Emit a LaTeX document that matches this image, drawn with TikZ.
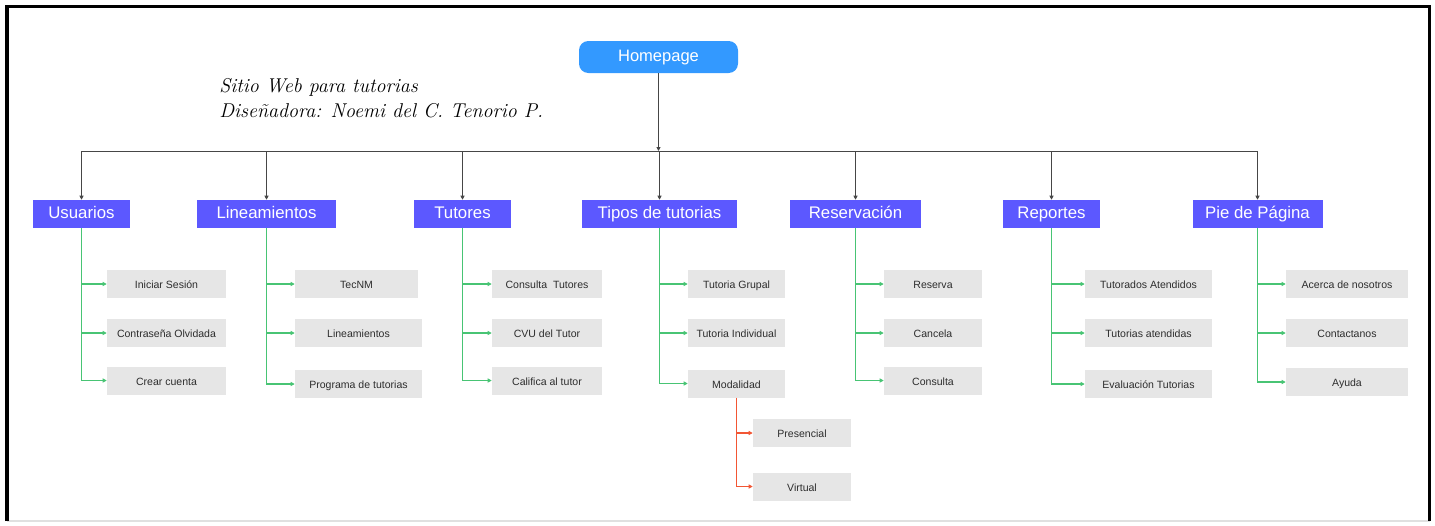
\documentclass[tikz,border=0pt]{standalone}
\usepackage{fontspec}
\newfontfamily\interfam{Liberation Sans}
\usetikzlibrary{arrows.meta}
\definecolor{azulhome}{RGB}{51,153,255}
\definecolor{morado}{RGB}{92,88,255}
\definecolor{grisclaro}{RGB}{230,230,230}
\definecolor{verde}{RGB}{72,196,116}
\definecolor{rojo}{RGB}{242,86,52}
\definecolor{textogris}{RGB}{45,45,45}
\definecolor{lineagris}{RGB}{70,70,70}

\begin{document}
\begin{tikzpicture}[x=0.75pt, y=-0.75pt,
    seccion/.style={fill=morado, text=white, inner sep=0pt,
      minimum height=21pt, text height=0.74em, text depth=0.04em,
      font=\interfam\fontsize{12.6}{14}\selectfont},
    pagina/.style={fill=grisclaro, text=textogris, inner sep=0pt,
      minimum height=21pt, text height=0.74em, text depth=0.04em,
      font=\interfam\fontsize{7.9}{9}\selectfont},
    enlace/.style={lineagris, line width=0.7pt,
      -{Triangle[length=3pt, width=3pt]}},
    rama/.style={verde, line width=0.8pt,
      -{Triangle[length=3pt, width=3pt]}},
    subrama/.style={rojo, line width=0.8pt,
      -{Triangle[length=3pt, width=3pt]}}]

    % Fondo y marco
    \fill[white] (0,0) rectangle (1435,525);
    \useasboundingbox (0,0) rectangle (1435,525);
    \draw[black!12, line width=0.8pt] (7,521) -- (1430,521);
    \draw[black, line width=2.6pt] (7,521) -- (7,6.5) -- (1429.5,6.5) -- (1429.5,521);

    % Titulo manuscrito
    \node[anchor=base west, inner sep=0pt, font=\itshape\fontsize{15}{17}\selectfont]
      (titulo) at (219,92) {Sitio Web para tutorias};
    \node[anchor=base west, inner sep=0pt, font=\itshape\fontsize{15}{17}\selectfont]
      (autora) at (219,117) {Diseñadora: Noemi del C. Tenorio P.};

    % Pagina principal
    \node[fill=azulhome, text=white, rounded corners=7pt, inner sep=0pt,
          minimum width=119.25pt, minimum height=24pt,
          text height=0.74em, text depth=0.04em,
          font=\interfam\fontsize{12.4}{14}\selectfont] (home) at (658.5,57) {Homepage};
    \coordinate (barra) at (658.5,151);

    % Secciones
    \node[seccion, minimum width=72.75pt]  (usu) at (81.5,214)  {Usuarios};
    \node[seccion, minimum width=104.25pt] (lin) at (266.5,214) {Lineamientos};
    \node[seccion, minimum width=72.75pt]  (tut) at (462.5,214) {Tutores};
    \node[seccion, minimum width=116.25pt] (tip) at (659.5,214) {Tipos de tutorias};
    \node[seccion, minimum width=98.25pt]  (res) at (855.5,214) {Reservación};
    \node[seccion, minimum width=72.75pt]  (rep) at (1051.5,214) {Reportes};
    \node[seccion, minimum width=97.5pt]   (pie) at (1257.5,214) {Pie de Página};

    % Conectores de la pagina principal
    \draw[enlace] (home) -- (barra);
    \foreach \s in {usu,lin,tut,tip,res,rep,pie} {
      \draw[enlace] (barra) -| (\s.north);
    }

    % Paginas de Usuarios
    \node[pagina, minimum width=89.25pt] (usu1) at (166.5,284)   {Iniciar Sesión};
    \node[pagina, minimum width=89.25pt] (usu2) at (166.5,333)   {Contraseña Olvidada};
    \node[pagina, minimum width=89.25pt] (usu3) at (166.5,380.5) {Crear cuenta};

    % Paginas de Lineamientos
    \node[pagina, minimum width=92.25pt] (lin1) at (356.5,284) {TecNM};
    \node[pagina, minimum width=95.25pt] (lin2) at (358.5,333) {Lineamientos};
    \node[pagina, minimum width=95.25pt] (lin3) at (358.5,384) {Programa de tutorias};

    % Paginas de Tutores
    \node[pagina, minimum width=82.5pt] (tut1) at (547,284)   {Consulta\ \ Tutores};
    \node[pagina, minimum width=82.5pt] (tut2) at (547,333)   {CVU del Tutor};
    \node[pagina, minimum width=82.5pt] (tut3) at (547,380.5) {Califica al tutor};

    % Paginas de Tipos de tutorias
    \node[pagina, minimum width=72.75pt] (tip1) at (736.5,284)   {Tutoria Grupal};
    \node[pagina, minimum width=72.75pt] (tip2) at (736.5,333)   {Tutoria Individual};
    \node[pagina, minimum width=72.75pt] (tip3) at (736.5,383.5) {Modalidad};
    \node[pagina, minimum width=73.5pt]  (mod1) at (802,433)     {Presencial};
    \node[pagina, minimum width=73.5pt]  (mod2) at (802,486.5)   {Virtual};

    % Paginas de Reservacion
    \node[pagina, minimum width=73.5pt] (res1) at (933,284)   {Reserva};
    \node[pagina, minimum width=73.5pt] (res2) at (933,333)   {Cancela};
    \node[pagina, minimum width=73.5pt] (res3) at (933,380.5) {Consulta};

    % Paginas de Reportes
    \node[pagina, minimum width=95.25pt] (rep1) at (1148.5,284) {Tutorados Atendidos};
    \node[pagina, minimum width=95.25pt] (rep2) at (1148.5,333) {Tutorias atendidas};
    \node[pagina, minimum width=95.25pt] (rep3) at (1148.5,384) {Evaluación Tutorias};

    % Paginas de Pie de Pagina
    \node[pagina, minimum width=91.5pt] (pie1) at (1347,284) {Acerca de nosotros};
    \node[pagina, minimum width=91.5pt] (pie2) at (1347,333) {Contactanos};
    \node[pagina, minimum width=91.5pt] (pie3) at (1347,382) {Ayuda};

    % Ramas verdes
    \foreach \s in {usu,lin,tut,tip,res,rep,pie} {
      \foreach \n in {1,2,3} {
        \draw[rama] (\s.south) |- (\s\n.west);
      }
    }

    % Ramas de Modalidad
    \draw[subrama] (tip3.south) |- (mod1.west);
    \draw[subrama] (tip3.south) |- (mod2.west);

  \end{tikzpicture}
\end{document}
